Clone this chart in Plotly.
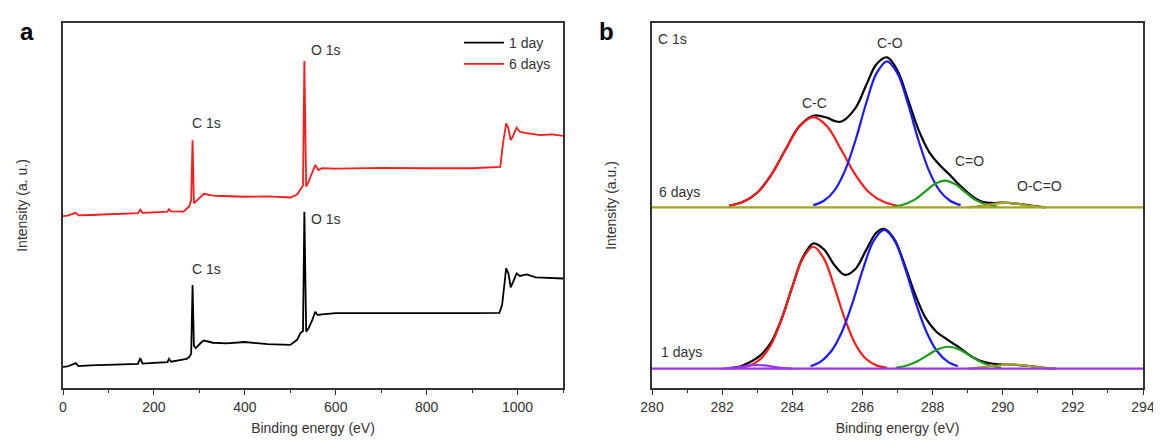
import plotly.graph_objects as go

# Survey spectra (panel a)
survey_x_1day = [0, 10, 28, 34, 60, 100, 150, 165, 170, 175, 200, 230, 233, 238, 260, 272, 278, 282,
                 285, 288, 292, 298, 305, 310, 330, 360, 400, 450, 500, 515, 522, 528, 531, 535,
                 540, 548, 555, 560, 570, 600, 700, 800, 900, 960, 966, 970, 975, 980, 985, 990,
                 998, 1005, 1010, 1020, 1040, 1060, 1080, 1100]
survey_y_1day = [5.8, 5.9, 6.8, 6.0, 6.2, 6.3, 6.5, 6.6, 8.2, 6.7, 6.9, 7.1, 8.0, 7.2, 7.7, 8.0, 8.5, 9.4,
                 28.2, 11.5, 10.9, 11.8, 12.6, 13.0, 12.4, 12.2, 12.6, 12.0, 11.8, 13.2, 15.0, 15.6, 48.3, 15.4,
                 16.3, 18.5, 20.9, 20.0, 20.2, 20.5, 20.6, 20.5, 20.5, 20.6, 22.7, 27.8, 32.8, 31.4, 27.6, 29.0,
                 31.4, 30.7, 30.9, 31.1, 30.3, 30.2, 30.0, 30.0]

survey_x_6days = [0, 10, 28, 34, 60, 100, 150, 165, 170, 175, 200, 230, 233, 238, 265, 272, 278, 282,
                  285, 288, 292, 300, 310, 330, 350, 400, 450, 500, 515, 522, 528, 531, 535,
                  540, 548, 555, 562, 570, 600, 700, 800, 900, 962, 968, 975, 980, 985, 990,
                  998, 1005, 1020, 1050, 1075, 1100]
survey_y_6days = [47.1, 47.2, 48.0, 47.3, 47.4, 47.6, 47.8, 47.9, 48.9, 48.0, 48.1, 48.3, 49.0, 48.4, 48.3, 49.0, 49.8, 51.5,
                  67.9, 50.6, 51.0, 52.0, 53.2, 52.7, 52.6, 52.4, 52.5, 52.2, 53.0, 54.2, 55.5, 89.6, 55.2,
                  56.5, 58.8, 61.1, 59.7, 60.2, 60.1, 60.3, 60.2, 60.2, 60.6, 67.0, 72.5, 71.1, 67.9, 69.0,
                  71.3, 70.2, 69.8, 69.3, 69.5, 69.1]

# C 1s fits, 6 days (panel b, upper)
env6_x = [282.2, 282.6, 283.0, 283.4, 283.8, 284.2, 284.6, 285.0, 285.2, 285.4, 285.8, 286.1, 286.4,
          286.7, 287.0, 287.3, 287.6, 287.9, 288.2, 288.5, 288.8, 289.1, 289.4, 289.7, 290.0, 290.4,
          290.8, 291.2]
env6_y = [49.9, 51.0, 53.5, 58.4, 65.2, 71.7, 74.6, 74.0, 73.2, 73.0, 76.7, 82.8, 88.7,
          90.6, 87.0, 79.0, 70.7, 64.7, 61.1, 58.3, 55.3, 52.8, 51.1, 50.7, 50.8, 50.5,
          50.0, 49.5]
cc6_x = [282.2, 282.6, 283.0, 283.4, 283.8, 284.2, 284.6, 285.0, 285.4, 285.8, 286.2, 286.6, 287.0]
cc6_y = [49.9, 51.0, 53.5, 58.4, 65.2, 71.6, 74.2, 71.6, 65.2, 58.4, 53.5, 51.0, 49.9]
co6_x = [284.6, 284.9, 285.2, 285.5, 285.8, 286.1, 286.4, 286.7, 287.0, 287.3, 287.6, 287.9, 288.2,
         288.5, 288.8]
co6_y = [50.1, 51.3, 54.1, 59.5, 67.8, 77.8, 86.2, 89.5, 86.2, 77.8, 67.8, 59.5, 54.1, 51.3, 50.1]
cdo6_x = [286.85, 287.15, 287.45, 287.75, 288.05, 288.35, 288.65, 288.95, 289.25, 289.55, 289.85]
cdo6_y = [49.7, 50.2, 51.4, 53.5, 55.8, 56.8, 55.8, 53.5, 51.4, 50.2, 49.7]
occo6_x = [289.0, 289.4, 289.8, 290.1, 290.4, 290.8, 291.2]
occo6_y = [49.5, 49.9, 50.5, 50.7, 50.5, 49.9, 49.5]
base6_x = [280, 294]
base6_y = [49.5, 49.5]

# C 1s fits, 1 day (panel b, lower)
env1_x = [282.2, 282.5, 282.8, 283.1, 283.4, 283.7, 284.0, 284.3, 284.6, 284.9, 285.2, 285.5, 285.8,
          286.1, 286.4, 286.62, 286.9, 287.2, 287.5, 287.8, 288.1, 288.4, 288.7, 289.0, 289.3, 289.6,
          289.9, 290.3, 290.7, 291.1, 291.5]
env1_y = [5.5, 5.9, 7.1, 9.0, 12.6, 19.1, 27.7, 35.8, 39.6, 38.0, 33.7, 31.0, 32.6,
          37.7, 42.6, 43.6, 40.9, 33.9, 25.7, 19.2, 15.5, 13.4, 11.5, 9.4, 7.7, 6.85,
          6.5, 6.4, 6.1, 5.6, 5.3]
cc1_x = [282.5, 282.8, 283.1, 283.4, 283.7, 284.0, 284.3, 284.6, 284.9, 285.2, 285.5, 285.8, 286.1,
         286.4, 286.7]
cc1_y = [5.55, 6.2, 8.0, 12.0, 18.9, 27.7, 35.5, 38.7, 35.5, 27.7, 18.9, 12.0, 8.0, 6.2, 5.55]
co1_x = [284.52, 284.82, 285.12, 285.42, 285.72, 286.02, 286.32, 286.62, 286.92, 287.22, 287.52,
         287.82, 288.12, 288.42, 288.72]
co1_y = [5.98, 7.3, 10.2, 15.5, 23.4, 32.7, 40.3, 43.3, 40.3, 32.7, 23.4, 15.5, 10.2, 7.3, 5.98]
cdo1_x = [286.95, 287.25, 287.55, 287.85, 288.15, 288.45, 288.75, 289.05, 289.35, 289.65, 289.95]
cdo1_y = [5.56, 6.11, 7.25, 8.94, 10.6, 11.3, 10.6, 8.94, 7.25, 6.11, 5.56]
small1_x = [282.0, 282.4, 282.8, 283.0, 283.2, 283.6, 284.0]
small1_y = [5.3, 5.6, 6.2, 6.3, 6.2, 5.6, 5.3]
occo1_x = [289.0, 289.5, 290.0, 290.3, 290.6, 291.0, 291.5]
occo1_y = [5.3, 5.8, 6.3, 6.4, 6.2, 5.7, 5.3]
base1_x = [280, 294]
base1_y = [5.3, 5.3]

RED = "#ff1a1a"
BLUE = "#1a1aff"
GREEN = "#1f9a1f"
OLIVE = "#a3a32a"
PURPLE = "#9a33ff"
TEXT = "#333333"
FONT = "Liberation Sans, Arial, sans-serif"

fig = go.Figure()

# panel a
fig.add_trace(go.Scatter(x=survey_x_1day, y=survey_y_1day, name="1 day", mode="lines",
                         line=dict(color="black", width=1.8), xaxis="x", yaxis="y"))
fig.add_trace(go.Scatter(x=survey_x_6days, y=survey_y_6days, name="6 days", mode="lines",
                         line=dict(color=RED, width=1.8), xaxis="x", yaxis="y"))

# panel b: envelope first, components, then baselines on top
fits = [
    (env6_x, env6_y, "black"), (cc6_x, cc6_y, RED), (co6_x, co6_y, BLUE),
    (cdo6_x, cdo6_y, GREEN), (occo6_x, occo6_y, OLIVE), (base6_x, base6_y, OLIVE),
    (env1_x, env1_y, "black"), (cc1_x, cc1_y, RED), (co1_x, co1_y, BLUE),
    (cdo1_x, cdo1_y, GREEN), (occo1_x, occo1_y, OLIVE), (small1_x, small1_y, PURPLE),
    (base1_x, base1_y, PURPLE),
]
for fx, fy, c in fits:
    fig.add_trace(go.Scatter(x=fx, y=fy, mode="lines", showlegend=False,
                             line=dict(color=c, width=2.2, shape="spline", smoothing=1.0),
                             xaxis="x2", yaxis="y2"))

W, H = 1161, 447
OFF = 8  # page body margin in the browser
px = lambda p: (p - OFF) / W
py = lambda p: 1 - (p - OFF) / H
ydom = [py(388), py(23)]

xaxis_common = dict(showline=True, linecolor=TEXT, linewidth=1.5, mirror=True,
                    ticks="outside", ticklen=5, tickwidth=1.2, tickcolor=TEXT,
                    showgrid=False, zeroline=False, automargin=False,
                    tickfont=dict(family=FONT, size=14, color=TEXT),
                    title_font=dict(family=FONT, size=14, color=TEXT), title_standoff=10)
yaxis_common = dict(showline=True, linecolor=TEXT, linewidth=1.5, mirror=True,
                    showticklabels=False, ticks="", showgrid=False, zeroline=False,
                    automargin=False, range=[0, 100],
                    title_font=dict(family=FONT, size=14, color=TEXT), title_standoff=30)

fig.update_layout(
    width=W, height=H,
    margin=dict(l=0, r=0, t=0, b=0),
    plot_bgcolor="white", paper_bgcolor="white",
    font=dict(family=FONT, color=TEXT),
    xaxis=dict(domain=[px(63), px(563)], range=[0, 1100], dtick=200, tick0=0,
               minor=dict(dtick=100, ticks="outside", ticklen=3, tickcolor=TEXT),
               title_text="Binding energy (eV)", anchor="y", **xaxis_common),
    yaxis=dict(domain=ydom, anchor="x", title_text="Intensity (a. u.)", **yaxis_common),
    xaxis2=dict(domain=[px(652), px(1143)], range=[280, 294], dtick=2, tick0=280,
                minor=dict(dtick=1, ticks="outside", ticklen=3, tickcolor=TEXT),
                title_text="Binding energy (eV)", anchor="y2", **xaxis_common),
    yaxis2=dict(domain=ydom, anchor="x2", title_text="Intensity (a.u.)", **yaxis_common),
    legend=dict(x=px(556), xanchor="right", y=py(27), yanchor="top",
                bgcolor="rgba(0,0,0,0)", font=dict(family=FONT, size=14, color=TEXT),
                itemwidth=40, tracegroupgap=0),
)

def label(text, x, y, ax="x", ay="y", anchor="center", size=14):
    fig.add_annotation(text=text, x=x, y=y, xref=ax, yref=ay, showarrow=False,
                       xanchor=anchor, font=dict(family=FONT, size=size, color=TEXT))

# panel a peak labels
label("C 1s", 316, 72.7)
label("O 1s", 578, 92.6)
label("C 1s", 316, 32.5)
label("O 1s", 578, 46.3)

# panel b labels
label("C 1s", 280.1, 95.6, "x2", "y2", anchor="left")
label("C-O", 286.8, 94.6, "x2", "y2")
label("C-C", 284.62, 78.2, "x2", "y2")
label("C=O", 289.05, 62.3, "x2", "y2")
label("O-C=O", 291.05, 55.3, "x2", "y2")
label("6 days", 280.15, 53.8, "x2", "y2", anchor="left")
label("1 days", 280.2, 9.8, "x2", "y2", anchor="left")

# panel letters
fig.add_annotation(text="<b>a</b>", x=px(18), y=py(16), xref="paper", yref="paper",
                   showarrow=False, font=dict(family=FONT, size=24, color="black"))
fig.add_annotation(text="<b>b</b>", x=px(606), y=py(16), xref="paper", yref="paper",
                   showarrow=False, font=dict(family=FONT, size=24, color="black"))

fig.write_html("out.html")
